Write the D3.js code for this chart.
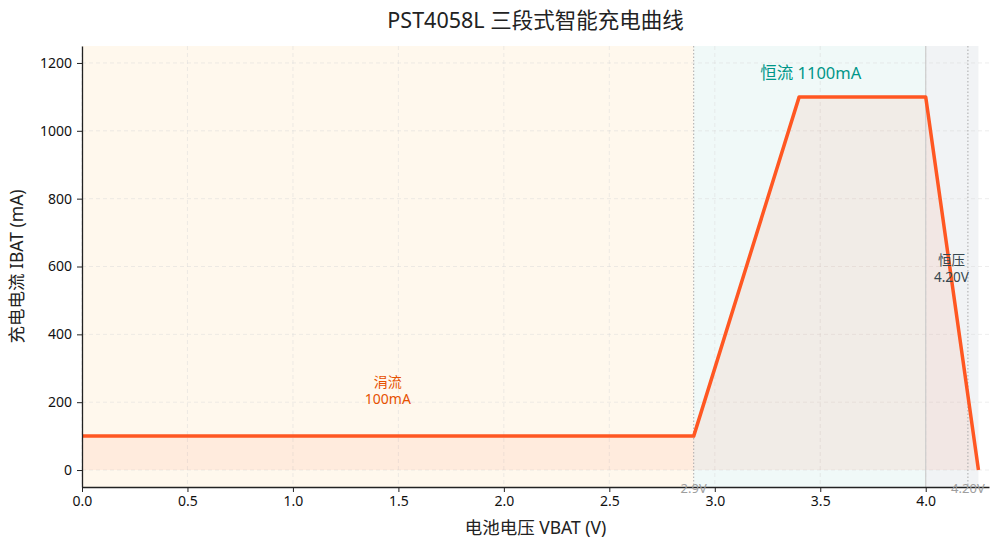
<!DOCTYPE html>
<html>
<head>
<meta charset="utf-8">
<script src="https://cdn.jsdelivr.net/npm/d3@7"></script>
<style>
  body { margin: 0; background: #fff; }
  svg { font-family: "Noto Sans", "Noto Sans CJK SC", sans-serif; }
</style>
</head>
<body>
<div id="chart"></div>
<script>
// Charge curve points (V, mA)
const voltage = [0.0, 2.9, 3.4, 4.0, 4.25];
const current = [100, 100, 1100, 1100, 0];

// Charging phases
const phaseNames = ['trickle', 'cc', 'cv'];
const phaseStart = [0.0, 2.9, 4.0];
const phaseEnd = [2.9, 4.0, 4.25];
const phaseFill = ['rgba(255,152,0,0.07)', 'rgba(0,150,136,0.06)', 'rgba(96,125,139,0.09)'];

const xTicks = [0.0, 0.5, 1.0, 1.5, 2.0, 2.5, 3.0, 3.5, 4.0];
const yTicks = [0, 200, 400, 600, 800, 1000, 1200];

const W = 1000, H = 550;
const margin = { top: 46, right: 11, bottom: 63, left: 82 };
const width = W - margin.left - margin.right;
const height = H - margin.top - margin.bottom;

const svg = d3.select("#chart").append("svg")
    .attr("width", W)
    .attr("height", H);

const g = svg.append("g")
    .attr("transform", `translate(${margin.left},${margin.top})`);

const x = d3.scaleLinear().domain([0, 4.3]).range([0, width]);
const y = d3.scaleLinear().domain([-50, 1250]).range([height, 0]);

// Phase backgrounds
phaseNames.forEach((p, i) => {
    g.append("rect")
        .attr("class", "phase-" + p)
        .attr("x", x(phaseStart[i]))
        .attr("y", 0)
        .attr("width", x(phaseEnd[i]) - x(phaseStart[i]))
        .attr("height", height)
        .attr("fill", phaseFill[i]);
});

// Grid
g.append("g").selectAll("line")
    .data(xTicks).enter().append("line")
    .attr("x1", d => x(d)).attr("x2", d => x(d))
    .attr("y1", 0).attr("y2", height)
    .attr("stroke", "#d9d9d9").attr("stroke-opacity", 0.6)
    .attr("stroke-dasharray", "4,3").attr("stroke-width", 0.8);
g.append("g").selectAll("line")
    .data(yTicks).enter().append("line")
    .attr("x1", 0).attr("x2", width)
    .attr("y1", d => y(d)).attr("y2", d => y(d))
    .attr("stroke", "#d9d9d9").attr("stroke-opacity", 0.6)
    .attr("stroke-dasharray", "4,3").attr("stroke-width", 0.8);

// Area under curve
const pts = voltage.map((v, i) => ({ v: v, c: current[i] }));
g.append("path")
    .datum(pts)
    .attr("fill", "rgba(255,87,34,0.08)")
    .attr("d", d3.area().x(d => x(d.v)).y0(y(0)).y1(d => y(d.c)));

// Marker lines
g.append("line")
    .attr("x1", x(2.9)).attr("x2", x(2.9)).attr("y1", 0).attr("y2", height)
    .attr("stroke", "#aaaaaa").attr("stroke-width", 1).attr("stroke-dasharray", "1.5,2");
g.append("line")
    .attr("x1", x(4.0)).attr("x2", x(4.0)).attr("y1", 0).attr("y2", height)
    .attr("stroke", "#cccccc").attr("stroke-width", 1.2);
g.append("line")
    .attr("x1", x(4.2)).attr("x2", x(4.2)).attr("y1", 0).attr("y2", height)
    .attr("stroke", "#aaaaaa").attr("stroke-width", 1).attr("stroke-dasharray", "1.5,2");

// Curve
g.append("path")
    .datum(pts)
    .attr("fill", "none")
    .attr("stroke", "#ff5722")
    .attr("stroke-width", 3.5)
    .attr("stroke-linejoin", "round")
    .attr("d", d3.line().x(d => x(d.v)).y(d => y(d.c)));

// Axes
const xAxis = g.append("g")
    .attr("transform", `translate(0,${height})`)
    .call(d3.axisBottom(x).tickValues(xTicks).tickFormat(d3.format(".1f"))
        .tickSize(5).tickPadding(4).tickSizeOuter(0));
const yAxis = g.append("g")
    .call(d3.axisLeft(y).tickValues(yTicks).tickFormat(d3.format("d"))
        .tickSize(5).tickPadding(5).tickSizeOuter(0));
[xAxis, yAxis].forEach(a => {
    a.select(".domain").attr("stroke", "#222").attr("stroke-width", 1.3);
    a.selectAll(".tick line").attr("stroke", "#222");
    a.selectAll(".tick text").attr("fill", "#111").style("font-size", "14px")
        .style("font-family", "'Noto Sans', sans-serif");
});

// Marker labels
g.append("text")
    .attr("x", x(2.9)).attr("y", height + 3)
    .attr("text-anchor", "middle").attr("dominant-baseline", "middle")
    .attr("fill", "#9e9e9e").style("font-size", "13px")
    .text("2.9V");
g.append("text")
    .attr("x", x(4.2)).attr("y", height + 3)
    .attr("text-anchor", "middle").attr("dominant-baseline", "middle")
    .attr("fill", "#9e9e9e").style("font-size", "13px")
    .text("4.20V");

// Phase labels
g.append("text")
    .attr("x", x(3.455)).attr("y", y(1165))
    .attr("text-anchor", "middle").attr("dominant-baseline", "middle")
    .attr("fill", "#009688").style("font-size", "16.5px")
    .text("恒流 1100mA");

const trickle = g.append("text")
    .attr("text-anchor", "middle")
    .attr("fill", "#e65100").style("font-size", "14px");
trickle.append("tspan").attr("x", x(1.45)).attr("y", y(255)).attr("dominant-baseline", "middle").text("涓流");
trickle.append("tspan").attr("x", x(1.45)).attr("y", y(205)).attr("dominant-baseline", "middle").text("100mA");

const cv = g.append("text")
    .attr("text-anchor", "middle")
    .attr("fill", "#37474f").style("font-size", "13.5px");
cv.append("tspan").attr("x", x(4.122)).attr("y", y(615)).attr("dominant-baseline", "middle").text("恒压");
cv.append("tspan").attr("x", x(4.122)).attr("y", y(565)).attr("dominant-baseline", "middle").text("4.20V");

// Axis titles
svg.append("text")
    .attr("x", margin.left + width / 2).attr("y", 529)
    .attr("text-anchor", "middle").attr("dominant-baseline", "middle")
    .attr("fill", "#222").style("font-size", "17.5px")
    .text("电池电压 VBAT (V)");
svg.append("text")
    .attr("transform", `translate(18,${margin.top + height / 2}) rotate(-90)`)
    .attr("text-anchor", "middle").attr("dominant-baseline", "middle")
    .attr("fill", "#222").style("font-size", "17.5px")
    .text("充电电流 IBAT (mA)");

// Title
svg.append("text")
    .attr("x", margin.left + width / 2).attr("y", 22)
    .attr("text-anchor", "middle").attr("dominant-baseline", "middle")
    .attr("fill", "#222").style("font-size", "21.5px")
    .text("PST4058L 三段式智能充电曲线");
</script>
</body>
</html>
